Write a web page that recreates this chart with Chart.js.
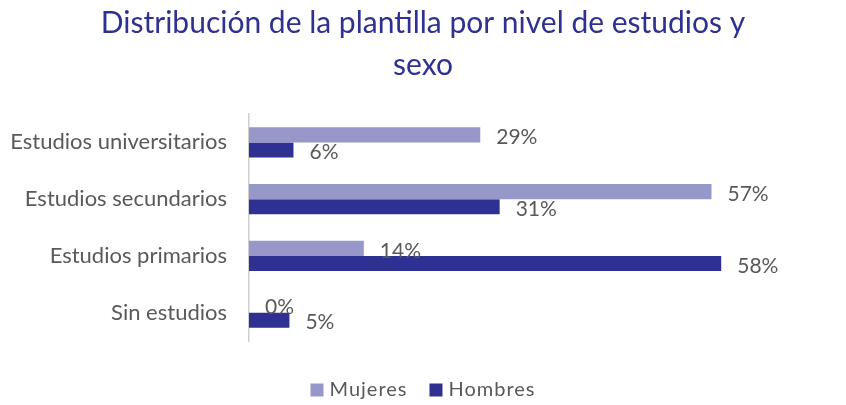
<!DOCTYPE html>
<html><head><meta charset="utf-8">
<script src="https://cdn.jsdelivr.net/npm/chart.js@4/dist/chart.umd.min.js"></script>
<style>html,body{margin:0;padding:0;background:#fff}#wrap{width:846px;height:405px;position:relative}</style>
</head><body><div id="wrap"><canvas id="c" width="846" height="405"></canvas></div>
<script>
const titleLines = ["Distribución de la plantilla por nivel de estudios y", "sexo"];
const categories = ["Estudios universitarios", "Estudios secundarios", "Estudios primarios", "Sin estudios"];
const seriesNames = ["Mujeres", "Hombres"];
const mujeres = [28.6, 57.2, 14.2, 0];
const hombres = [5.5, 31.0, 58.4, 5.0];
const colors = ["#9797c9", "#2e3192"];

const FONT = "Lato, 'Open Sans', sans-serif";
const GREY = "#595959";

const overlay = {
  id: 'overlay',
  afterDatasetsDraw(chart) {
    const ctx = chart.ctx;
    ctx.save();
    // data labels
    ctx.font = "21px " + FONT;
    ctx.fillStyle = GREY;
    ctx.textBaseline = "middle";
    ctx.textAlign = "left";
    chart.data.datasets.forEach((ds, i) => {
      const meta = chart.getDatasetMeta(i);
      meta.data.forEach((bar, j) => {
        const v = ds.data[j];
        ctx.fillText(Math.round(v) + "%", bar.x + 16, bar.y + 2.5);
      });
    });
    // title
    ctx.font = "30px " + FONT;
    ctx.fillStyle = "#2e3192";
    ctx.textAlign = "center";
    ctx.fillText(titleLines[0], 423, 23);
    ctx.fillText(titleLines[1], 423, 65);
    // legend
    ctx.font = "20px " + FONT;
    ctx.letterSpacing = "1px";
    ctx.textAlign = "left";
    const items = chart.data.datasets.map(d => ({t: d.label, c: d.backgroundColor, w: ctx.measureText(d.label).width}));
    const box = 13, gap = 6, itemGap = 22;
    let total = 0;
    items.forEach((it, k) => { total += box + gap + it.w + (k ? itemGap : 0); });
    let x = 423 - total / 2;
    const y = 390;
    items.forEach((it, k) => {
      if (k) x += itemGap;
      ctx.fillStyle = it.c;
      ctx.fillRect(x, y - box / 2, box, box);
      x += box + gap;
      ctx.fillStyle = GREY;
      ctx.fillText(it.t, x, y);
      x += it.w;
    });
    ctx.restore();
  }
};

new Chart(document.getElementById('c'), {
  type: 'bar',
  data: {
    labels: categories,
    datasets: [
      {label: seriesNames[0], data: mujeres, backgroundColor: colors[0], barPercentage: 1, categoryPercentage: 0.53},
      {label: seriesNames[1], data: hombres, backgroundColor: colors[1], barPercentage: 1, categoryPercentage: 0.53}
    ]
  },
  options: {
    indexAxis: 'y',
    responsive: false,
    animation: false,
    layout: {padding: {top: 114, bottom: 64, left: 0, right: 31}},
    plugins: {legend: {display: false}, title: {display: false}, tooltip: {enabled: false}},
    scales: {
      x: {display: false, min: 0, max: 70},
      y: {
        grid: {display: false, drawTicks: false},
        border: {display: true, color: "#cfcfcf", width: 1.5},
        ticks: {color: GREY, font: {family: FONT, size: 22}, padding: 22},
        afterFit(s) { s.width = 249; }
      }
    }
  },
  plugins: [overlay]
});
</script></body></html>
